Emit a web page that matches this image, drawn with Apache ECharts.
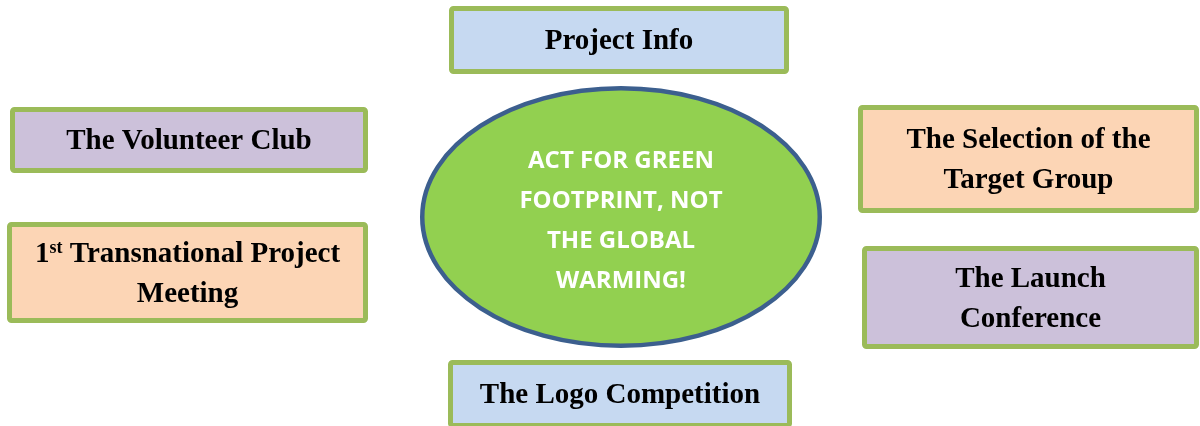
<!DOCTYPE html>
<html>
<head>
<meta charset="utf-8">
<script src="https://cdn.jsdelivr.net/npm/echarts@6/dist/echarts.min.js"></script>
<style>html,body{margin:0;padding:0;background:#fff}#c{width:1200px;height:426px}</style>
</head>
<body>
<div id="c"></div>
<script>
// Diagram content
var boxLabels = [
  'Project Info',
  'The Volunteer Club',
  '{n|1}{sup|st}{n| Transnational Project}\n{n|Meeting}',
  'The Selection of the\nTarget Group',
  'The Launch\nConference',
  'The Logo Competition'
];
var boxKinds = ['blue', 'lavender', 'peach', 'peach', 'lavender', 'blue'];
var centerLabel = 'ACT FOR GREEN\nFOOTPRINT, NOT\nTHE GLOBAL\nWARMING!';

// Layout (outer box edges in page pixels: left, top, right, bottom)
var boxLayout = [
  [449, 6, 789, 74],
  [10, 107, 368, 173],
  [7, 222, 368, 323],
  [858, 105, 1199, 213],
  [862, 246, 1199, 349],
  [448, 360, 792, 428]
];
var ellipseLayout = [[420, 86, 822, 348]];

var fills = { blue: '#c6d9f1', lavender: '#ccc1da', peach: '#fcd5b5' };
var BORDER = 5;
var ELL_BORDER = 4.5;

function boxItem(params, api) {
  var p0 = api.coord([api.value(0), api.value(1)]);
  var p1 = api.coord([api.value(2), api.value(3)]);
  var i = params.dataIndex;
  return {
    type: 'rect',
    shape: {
      x: p0[0] + BORDER / 2, y: p0[1] + BORDER / 2,
      width: p1[0] - p0[0] - BORDER, height: p1[1] - p0[1] - BORDER, r: 2
    },
    style: { fill: fills[boxKinds[i]], stroke: '#9bbb59', lineWidth: BORDER },
    textContent: {
      style: {
        text: boxLabels[i],
        fill: '#000',
        fontFamily: 'Liberation Serif',
        fontWeight: 'bold',
        fontSize: 29,
        lineHeight: 40,
        align: 'center',
        verticalAlign: 'middle',
        rich: {
          n: { fontFamily: 'Liberation Serif', fontWeight: 'bold', fontSize: 29, lineHeight: 40, fill: '#000' },
          sup: { fontFamily: 'Liberation Serif', fontWeight: 'bold', fontSize: 18, lineHeight: 40, verticalAlign: 'top', padding: [5, 0, 0, 0], fill: '#000' }
        }
      }
    },
    textConfig: { position: 'inside', offset: [0, 2] }
  };
}

function ellipseItem(params, api) {
  var p0 = api.coord([api.value(0), api.value(1)]);
  var p1 = api.coord([api.value(2), api.value(3)]);
  return {
    type: 'ellipse',
    shape: {
      cx: (p0[0] + p1[0]) / 2, cy: (p0[1] + p1[1]) / 2,
      rx: (p1[0] - p0[0] - ELL_BORDER) / 2, ry: (p1[1] - p0[1] - ELL_BORDER) / 2
    },
    style: { fill: '#92d050', stroke: '#3c5f8e', lineWidth: ELL_BORDER },
    textContent: {
      style: {
        text: centerLabel,
        fill: '#ffffff',
        fontFamily: 'Open Sans',
        fontWeight: 'bold',
        fontSize: 24,
        lineHeight: 40,
        align: 'center',
        verticalAlign: 'middle'
      }
    },
    textConfig: { position: 'inside', offset: [0, 4] }
  };
}

var chart = echarts.init(document.getElementById('c'), null, { renderer: 'canvas' });
chart.setOption({
  animation: false,
  grid: { left: 0, right: 0, top: 0, bottom: 0 },
  xAxis: { type: 'value', min: 0, max: 1200, show: false },
  yAxis: { type: 'value', min: 0, max: 426, inverse: true, show: false },
  series: [
    { type: 'custom', silent: true, renderItem: boxItem, data: boxLayout },
    { type: 'custom', silent: true, renderItem: ellipseItem, data: ellipseLayout }
  ]
});
</script>
</body>
</html>
